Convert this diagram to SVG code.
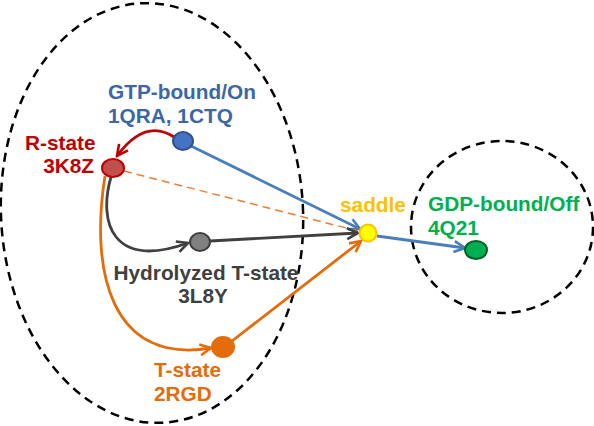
<svg xmlns="http://www.w3.org/2000/svg" width="594" height="426" viewBox="0 0 594 426">
<style>
text{font-family:"Liberation Sans",Arial,sans-serif;font-weight:bold;font-size:20.8px}
.basin{fill:none;stroke:#000;stroke-width:2.5;stroke-dasharray:9 6}
.c{fill:none;stroke-width:2.8}
</style>
<defs>
<marker id="aB" viewBox="0 0 14 14" refX="12.5" refY="7" markerWidth="14" markerHeight="14" markerUnits="userSpaceOnUse" orient="auto"><path d="M1.5,1.5 L12.5,7 L1.5,12.5" fill="none" stroke="#4a7ebb" stroke-width="2.6"/></marker>
<marker id="aR" viewBox="0 0 14 14" refX="12.5" refY="7" markerWidth="14" markerHeight="14" markerUnits="userSpaceOnUse" orient="auto"><path d="M1.5,1.5 L12.5,7 L1.5,12.5" fill="none" stroke="#c00000" stroke-width="2.6"/></marker>
<marker id="aG" viewBox="0 0 14 14" refX="12.5" refY="7" markerWidth="14" markerHeight="14" markerUnits="userSpaceOnUse" orient="auto"><path d="M1.5,1.5 L12.5,7 L1.5,12.5" fill="none" stroke="#404040" stroke-width="2.6"/></marker>
<marker id="aO" viewBox="0 0 14 14" refX="12.5" refY="7" markerWidth="14" markerHeight="14" markerUnits="userSpaceOnUse" orient="auto"><path d="M1.5,1.5 L12.5,7 L1.5,12.5" fill="none" stroke="#e46c0a" stroke-width="2.6"/></marker>
</defs>
<rect width="594" height="426" fill="#fff"/>
<g id="basins">
<ellipse class="basin" cx="152" cy="213" rx="151" ry="210" transform="rotate(-3 152 213)"/>
<ellipse class="basin" cx="502" cy="227" rx="91" ry="86"/>
</g>
<g id="connectors">
<path class="c" d="M191,146 L360,229" stroke="#4a7ebb" marker-end="url(#aB)"/>
<path class="c" d="M377,236 L465,248" stroke="#4a7ebb" marker-end="url(#aB)"/>
<path class="c" d="M174,137 Q145,118 117,156" stroke="#c00000" marker-end="url(#aR)"/>
<path d="M124,171 L358,231" fill="none" stroke="#ed7d31" stroke-width="1.5" stroke-dasharray="8 5"/>
<path class="c" d="M111,177 C98,222 112,270 188,243" stroke="#404040" marker-end="url(#aG)"/>
<path class="c" d="M210,241 L358,233" stroke="#404040" marker-end="url(#aG)"/>
<path class="c" d="M105,176 C90,270 110,365 211,348" stroke="#e46c0a" marker-end="url(#aO)"/>
<path class="c" d="M232,341 L361,241" stroke="#e46c0a" marker-end="url(#aO)"/>
</g>
<g id="gtp">
<ellipse cx="183" cy="141" rx="10" ry="9" fill="#4472c4" stroke="#2f528f" stroke-width="2"/>
<text x="108" y="99" fill="#3b67a6">GTP-bound/On</text>
<text x="108" y="123" fill="#3b67a6">1QRA, 1CTQ</text>
</g>
<g id="rstate">
<ellipse cx="113" cy="168" rx="11" ry="9" fill="#c0504d" stroke="#c00000" stroke-width="2"/>
<text x="25" y="150" fill="#c00000">R-state</text>
<text x="94" y="173" fill="#c00000" text-anchor="end">3K8Z</text>
</g>
<g id="hydrolyzed">
<ellipse cx="200" cy="242" rx="10" ry="9" fill="#808080" stroke="#404040" stroke-width="2"/>
<text x="206" y="280" fill="#404040" text-anchor="middle">Hydrolyzed T-state</text>
<text x="203" y="303" fill="#404040" text-anchor="middle">3L8Y</text>
</g>
<g id="tstate">
<ellipse cx="223" cy="347" rx="11" ry="10" fill="#e46c0a" stroke="#e46c0a" stroke-width="2"/>
<text x="154" y="377" fill="#e46c0a">T-state</text>
<text x="154" y="401" fill="#e46c0a">2RGD</text>
</g>
<g id="saddle">
<circle cx="368" cy="233" r="8.5" fill="#ffff00" stroke="#ffc000" stroke-width="2"/>
<text x="340" y="212" fill="#ffc000">saddle</text>
</g>
<g id="gdp">
<ellipse cx="476" cy="250" rx="11" ry="9" fill="#00b050" stroke="#00602b" stroke-width="2"/>
<text x="428" y="211" fill="#00b050">GDP-bound/Off</text>
<text x="428" y="235" fill="#00b050">4Q21</text>
</g>
</svg>
